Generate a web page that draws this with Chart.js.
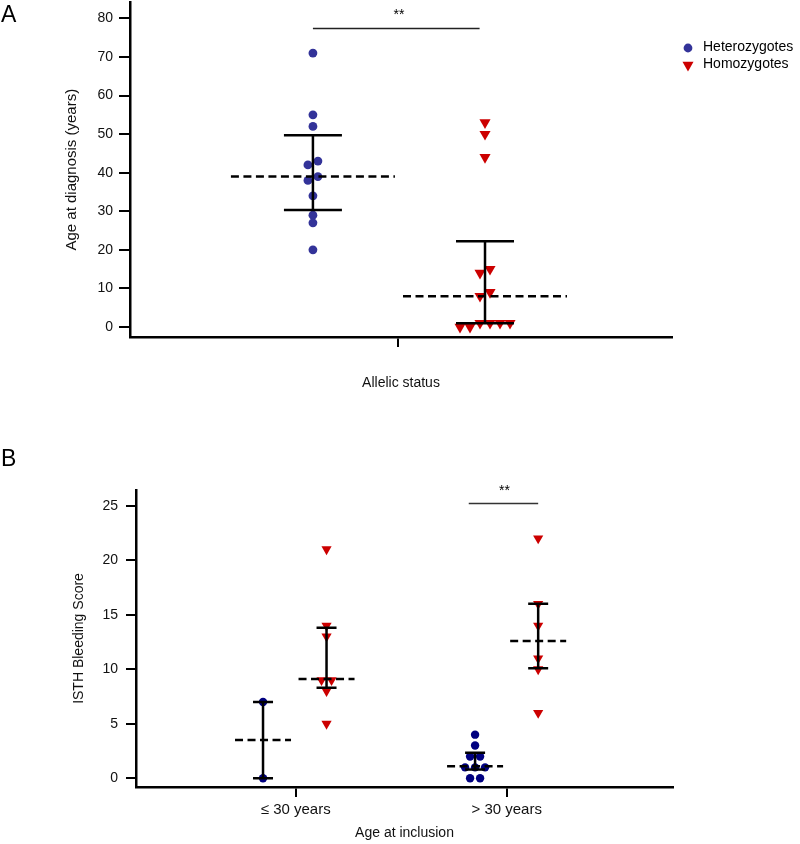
<!DOCTYPE html>
<html>
<head>
<meta charset="utf-8">
<script src="https://cdn.jsdelivr.net/npm/chart.js@4.4.0/dist/chart.umd.min.js"></script>
<style>
  body { margin: 0; background: #fff; width: 800px; height: 844px; position: relative; overflow: hidden; font-family: "Liberation Sans", Arial, sans-serif; }
  .letter { position: absolute; left: 1px; font-size: 23px; line-height: 23px; color: #000; z-index: 2; }
  canvas { position: absolute; left: 0; }
</style>
</head>
<body>
<div class="letter" style="top:3px">A</div>
<div class="letter" style="top:447px">B</div>
<canvas id="chartA" width="800" height="414" style="top:-4px"></canvas>
<canvas id="chartB" width="800" height="404" style="top:440px"></canvas>
<script>
// ---- panel A : age at diagnosis by allelic status ----
const seriesNames = ['Heterozygotes', 'Homozygotes'];
const hetAgeA = [71, 55, 52, 43, 42, 39, 38, 34, 29, 27, 20];
const homAgeA = [53, 50, 44, 15, 14, 9, 8, 0, 0, 1, 1, 1, 1];
const hetSpreadA = [0, 0, 0, 1, -1, 1, -1, 0, 0, 0, 0];
const homSpreadA = [0, 0, 0, 1, -1, 1, -1, -5, -3, -1, 1, 3, 5];
const centreA = [39, 8];
const barsA = [[30.3, 49.7], [1, 22.2]];
const yTicksA = [0, 10, 20, 30, 40, 50, 60, 70, 80];
const sigYA = 77.4;
const starsYA = 80.8;

// ---- panel B : ISTH bleeding score by age at inclusion ----
const groupsB = ['\u2264 30 years', '> 30 years'];
const hetScoreLow = [7, 0];
const homScoreLow = [21, 14, 13, 9, 9, 8, 5];
const hetScoreHigh = [4, 3, 2, 2, 1, 1, 1, 0, 0];
const homScoreHigh = [22, 16, 14, 11, 10, 6];
const homSpreadLow = [0, 0, 0, -1, 1, 0, 0];
const hetSpreadHigh = [0, 0, -1, 1, -2, 0, 2, -1, 1];
const centreB = [3.5, 9.1, 1.1, 12.6];
const barsB = [[0, 7], [8.3, 13.8], [0.8, 2.35], [10.1, 16]];
const yTicksB = [0, 5, 10, 15, 20, 25];
const sigYB = 25.2;
const starsYB = 26.35;

const FONT = '"Liberation Sans", Arial, sans-serif';
Chart.defaults.font.family = FONT;
Chart.defaults.color = '#000';

const blueA = '#333399';
const blueB = '#000080';
const red = '#cc0000';

function pointsAt(vals, spread, x0, step) {
    return vals.map((v, i) => ({x: x0 + (spread ? spread[i] : 0) * step, y: v}));
}
function errorPath(x0, lo, hi, cap) {
    return [
        {x: x0 - cap, y: hi}, {x: x0 + cap, y: hi}, {x: x0, y: hi},
        {x: x0, y: lo}, {x: x0 - cap, y: lo}, {x: x0 + cap, y: lo}
    ];
}
function hLine(x1, x2, y) {
    return [{x: x1, y: y}, {x: x2, y: y}];
}
function lineSet(data, opts) {
    return Object.assign({
        data: data, showLine: true, borderColor: '#000', borderWidth: 2.5,
        pointRadius: 0, pointHoverRadius: 0, tension: 0, fill: false, order: 0,
        borderCapStyle: 'butt', borderJoinStyle: 'miter'
    }, opts || {});
}
function dotSet(label, data, color, round, size) {
    return {
        label: label, data: data, backgroundColor: color, borderColor: color,
        pointStyle: round ? 'circle' : 'triangle', pointRotation: round ? 0 : 180,
        pointRadius: size, pointBorderWidth: 0, pointHoverRadius: size, showLine: false, order: 1
    };
}

function marker(ctx, style, x, y, r) {
    ctx.beginPath();
    if (style === 'circle') {
        ctx.arc(x, y, r, 0, Math.PI * 2);
    } else {
        const s = Math.sin(Math.PI / 3) * r;
        ctx.moveTo(x, y + r);
        ctx.lineTo(x - s, y - r / 2);
        ctx.lineTo(x + s, y - r / 2);
        ctx.closePath();
    }
    ctx.fill();
}

const annotate = {
    id: 'annotate',
    afterDatasetsDraw(chart, args, opts) {
        const ctx = chart.ctx;
        const xs = chart.scales.x, ys = chart.scales.y;
        ctx.save();
        ctx.font = '14px ' + FONT;
        ctx.textBaseline = 'middle';
        if (opts.stars) {
            ctx.fillStyle = '#000';
            ctx.textAlign = 'center';
            ctx.fillText(opts.stars.text, xs.getPixelForValue(opts.stars.x), ys.getPixelForValue(opts.stars.y));
        }
        if (opts.legend) {
            const x0 = chart.chartArea.right + 16;
            let y0 = opts.legend.top;
            chart.data.datasets.forEach(ds => {
                if (!ds.label) return;
                ctx.fillStyle = ds.backgroundColor;
                marker(ctx, ds.pointStyle, x0, y0 + 1, ds.pointRadius);
                ctx.fillStyle = '#000';
                ctx.textAlign = 'left';
                ctx.fillText(ds.label, x0 + 15, y0);
                y0 += 17;
            });
        }
        ctx.restore();
    }
};

function axisY(min, max, ticks, title, width, titlePad, tickLen, tickPad, titleSize) {
    return {
        type: 'linear', min: min, max: max,
        afterBuildTicks: s => { s.ticks = ticks.map(v => ({value: v})); },
        afterFit: s => { s.width = width; s.paddingTop = 0; s.paddingBottom = 0; },
        border: {display: true, color: '#000', width: 2.5},
        grid: {display: true, drawOnChartArea: false, drawTicks: true, tickLength: tickLen, color: '#000', lineWidth: 2},
        ticks: {font: {size: 14}, color: '#111', padding: tickPad, autoSkip: false},
        title: {display: true, text: title, font: {size: titleSize}, color: '#111', padding: {top: titlePad, bottom: 0}}
    };
}
function axisX(min, max, ticks, labelOf, title, height, titlePad, labelSize, tickPad) {
    return {
        type: 'linear', min: min, max: max,
        afterBuildTicks: s => { s.ticks = ticks.map(v => ({value: v})); },
        afterFit: s => { s.height = height; s.paddingLeft = 0; s.paddingRight = 0; },
        border: {display: true, color: '#000', width: 2.5},
        grid: {display: true, drawOnChartArea: false, drawTicks: true, tickLength: 10, color: '#000', lineWidth: 2},
        ticks: {font: {size: labelSize}, color: '#111', padding: tickPad, autoSkip: false, maxRotation: 0, callback: labelOf},
        title: {display: true, text: title, font: {size: 14}, color: '#111', padding: {top: 0, bottom: titlePad}}
    };
}

// ---------- chart A ----------
const posA = [0.686, 1.321];
const stepA = 0.01845;
const dashHalfA = 0.3026, capA = 0.107;

const dsA = [
    dotSet(seriesNames[0], pointsAt(hetAgeA, hetSpreadA, posA[0], stepA), blueA, true, 4.4),
    dotSet(seriesNames[1], pointsAt(homAgeA, homSpreadA, posA[1], stepA), red, false, 6.4),
    lineSet(hLine(posA[0] - dashHalfA, posA[0] + dashHalfA, centreA[0]), {borderDash: [8, 4.5]}),
    lineSet(hLine(posA[1] - dashHalfA, posA[1] + dashHalfA, centreA[1]), {borderDash: [8, 4.5]}),
    lineSet(errorPath(posA[0], barsA[0][0], barsA[0][1], capA)),
    lineSet(errorPath(posA[1], barsA[1][0], barsA[1][1], capA)),
    lineSet(hLine(posA[0], posA[1] - 0.02, sigYA), {borderWidth: 1.5, borderColor: '#222'})
];

new Chart(document.getElementById('chartA'), {
    type: 'scatter',
    data: {datasets: dsA},
    options: {
        responsive: false,
        animation: false,
        layout: {padding: {top: 6, right: 128, bottom: 0, left: 0}},
        scales: {
            x: axisX(0.011, 2.011, [1], () => '', 'Allelic status', 73, 18.6, 14, 4),
            y: axisY(-2.59, 84.14, yTicksA, 'Age at diagnosis (years)', 130, 63, 11, 6, 15)
        },
        plugins: {
            legend: {display: false},
            tooltip: {enabled: false},
            annotate: {
                stars: {text: '**', x: (posA[0] + posA[1]) / 2, y: starsYA},
                legend: {top: 51}
            }
        }
    },
    plugins: [annotate]
});

// ---------- chart B ----------
const posB = [0.845, 1.146, 1.85, 2.149];
const stepB = 0.0237;
const dashHalfB = 0.1327, capB = 0.0474;
const groupData = [
    [hetScoreLow, null, blueB, true],
    [homScoreLow, homSpreadLow, red, false],
    [hetScoreHigh, hetSpreadHigh, blueB, true],
    [homScoreHigh, null, red, false]
];

const dsB = [];
groupData.forEach((g, i) => {
    dsB.push(dotSet('', pointsAt(g[0], g[1], posB[i], stepB), g[2], g[3], g[3] ? 4.2 : 5.9));
    dsB.push(lineSet(hLine(posB[i] - dashHalfB, posB[i] + dashHalfB, centreB[i]), {borderDash: [8, 4.5]}));
    dsB.push(lineSet(errorPath(posB[i], barsB[i][0], barsB[i][1], capB)));
});
dsB.push(lineSet(hLine(posB[2] - 0.03, posB[3], sigYB), {borderWidth: 1.5, borderColor: '#333'}));

new Chart(document.getElementById('chartB'), {
    type: 'scatter',
    data: {datasets: dsB},
    options: {
        responsive: false,
        animation: false,
        layout: {padding: {top: 50, right: 127, bottom: 0, left: 0}},
        scales: {
            x: axisX(0.243, 2.788, [1, 2], v => groupsB[Math.round(v) - 1], 'Age at inclusion', 57, 2.6, 15, 4),
            y: axisY(-0.8, 26.44, yTicksB, 'ISTH Bleeding Score', 136, 70.6, 10, 8, 14)
        },
        plugins: {
            legend: {display: false},
            tooltip: {enabled: false},
            annotate: {
                stars: {text: '**', x: (posB[2] + posB[3]) / 2 - 0.01, y: starsYB}
            }
        }
    },
    plugins: [annotate]
});
</script>
</body>
</html>
